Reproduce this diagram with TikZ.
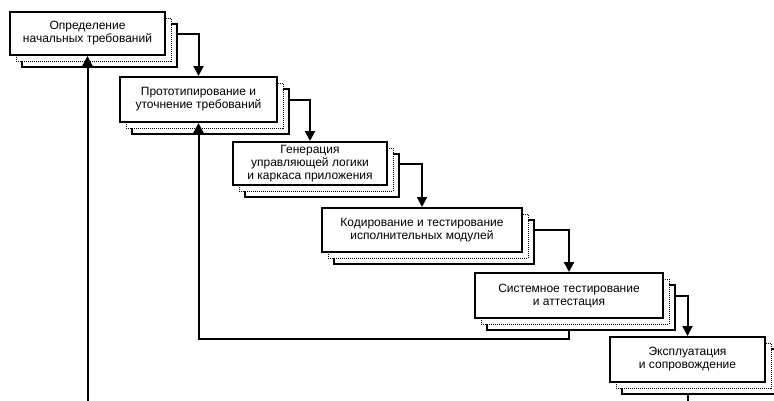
\documentclass[tikz,border=0pt]{standalone}
\usepackage{fontspec}
\setmainfont{Liberation Sans}
\usetikzlibrary{arrows.meta}
\tikzset{
  front/.style={draw, line width=2pt, fill=white, rectangle, inner sep=0pt,
    align=center, font=\fontsize{12}{13}\selectfont},
  back/.style={draw, line width=1.8pt, fill=white, rectangle, inner sep=0pt},
  mid/.style={draw, line width=1pt, densely dotted, fill=white, rectangle, inner sep=0pt},
  arr/.style={line width=2pt, -{Triangle[width=10pt,length=10pt]}},
}
\begin{document}
\begin{tikzpicture}[x=1pt,y=-1pt]
\useasboundingbox (0,0) rectangle (774,400);
\clip (0,0) rectangle (774,400);
\coordinate (fb) at (0,339);
\coordinate (bot) at (0,420);
% back layers
\node[back, minimum width=155pt, minimum height=43pt] (b1) at (99.5,45.5) {};
\node[mid, minimum width=155pt, minimum height=43pt] (m1) at (93.5,39.5) {};
\node[front, minimum width=155pt, minimum height=43pt] (f1) at (87.5,33.5) {Определение\\начальных требований};

\node[back, minimum width=157pt, minimum height=45pt] (b2) at (210.5,111.5) {};
\node[mid, minimum width=157pt, minimum height=45pt] (m2) at (204.5,105.5) {};
\node[front, minimum width=157pt, minimum height=45pt] (f2) at (198.5,99.5) {Прототипирование и\\уточнение требований};

\node[back, minimum width=154pt, minimum height=43pt] (b3) at (322,175.5) {};
\node[mid, minimum width=154pt, minimum height=43pt] (m3) at (316,169.5) {};
\node[front, minimum width=154pt, minimum height=43pt] (f3) at (310,163.5) {Генерация\\управляющей логики\\и каркаса приложения};

\node[back, minimum width=200pt, minimum height=44pt] (b4) at (434,242) {};
\node[mid, minimum width=200pt, minimum height=44pt] (m4) at (428,236) {};
\node[front, minimum width=200pt, minimum height=44pt] (f4) at (422,230) {Кодирование и тестирование\\исполнительных модулей};

\node[back, minimum width=188pt, minimum height=45pt] (b5) at (581,307.5) {};
\node[mid, minimum width=188pt, minimum height=45pt] (m5) at (575,301.5) {};
\node[front, minimum width=188pt, minimum height=45pt] (f5) at (569,295.5) {Системное тестирование\\и аттестация};

\node[back, minimum width=155pt, minimum height=45pt] (b6) at (699.5,371.5) {};
\node[mid, minimum width=155pt, minimum height=45pt] (m6) at (693.5,365.5) {};
\node[front, minimum width=155pt, minimum height=45pt] (f6) at (687.5,359.5) {Эксплуатация\\и сопровождение};

% forward connectors
\draw[arr] (f1.east -| b1.east) -| (f2.north);
\draw[arr] (f2.east -| b2.east) -| (f3.north);
\draw[arr] (f3.east -| b3.east) -| (f4.north);
\draw[arr] (f4.east -| b4.east) -| (f5.north);
\draw[arr] (f5.east -| b5.east) -| (f6.north);
% feedback connectors
\draw[arr] (f5.south |- b5.south) -- (f5.south |- fb) -- (f2.south |- fb) -- (f2.south);
\draw[arr] (f6.south |- b6.south) -- (f6.south |- bot) -- (f1.south |- bot) -- (f1.south);
\end{tikzpicture}
\end{document}
